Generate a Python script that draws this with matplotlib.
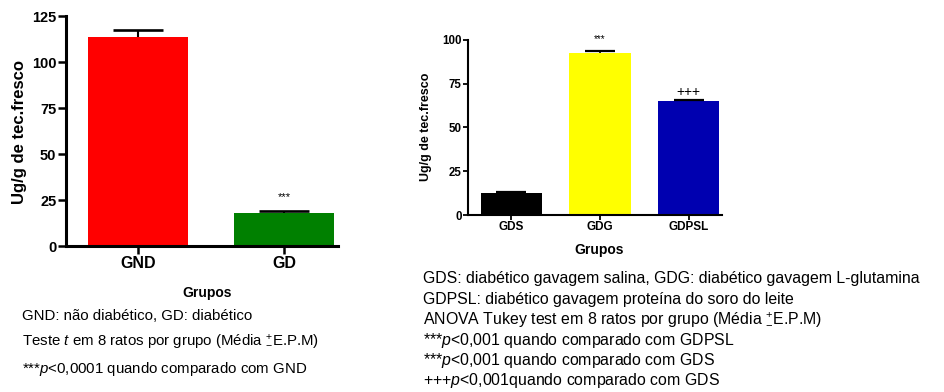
import matplotlib
matplotlib.use('Agg')
import matplotlib.pyplot as plt
import numpy as np

# --- data ---
grupos_a = ['GND', 'GD']
medias_a = [113.5, 17.8]
epm_a = [4.0, 1.0]
cores_a = ['#ff0000', '#008000']
sig_a = ['', '***']

grupos_b = ['GDS', 'GDG', 'GDPSL']
medias_b = [12.6, 92.8, 65.2]
epm_b = [0.3, 0.9, 0.4]
cores_b = ['#000000', '#ffff00', '#0000b0']
sig_b = ['', '***', '+++']

legenda_a = ['GND: não diabético, GD: diabético',
             r'Teste $t$ em 8 ratos por grupo (Média $^{+}_{-}$E.P.M)',
             r'***$p$<0,0001 quando comparado com GND']
legenda_b = ['GDS: diabético gavagem salina, GDG: diabético gavagem L-glutamina',
             'GDPSL: diabético gavagem proteína do soro do leite',
             r'ANOVA Tukey test em 8 ratos por grupo (Média $^{+}_{-}$E.P.M)',
             r'***$p$<0,001 quando comparado com GDPSL',
             r'***$p$<0,001 quando comparado com GDS',
             r'+++$p$<0,001quando comparado com GDS']

plt.rcParams['font.family'] = ['Liberation Sans', 'DejaVu Sans']
plt.rcParams['mathtext.fontset'] = 'custom'
plt.rcParams['mathtext.rm'] = 'Liberation Sans'
plt.rcParams['mathtext.it'] = 'Liberation Sans:italic'

W, H = 944, 392
fig = plt.figure(figsize=(W / 100, H / 100), dpi=100)


def px(x, y):
    return x / W, 1 - y / H


def eixo(x0, x1, y0, y1):
    return fig.add_axes([x0 / W, 1 - y1 / H, (x1 - x0) / W, (y1 - y0) / H])


def barras_erro(ax, x, m, e, larg_cap, lw):
    # only the upper half of the error bar, as GraphPad draws it
    ax.errorbar(x, m, yerr=[np.zeros(len(x)), e], fmt='none', ecolor='black',
                elinewidth=lw, capsize=0, zorder=3)
    ax.plot(x, np.array(m) + np.array(e), ls='none', marker='_',
            markersize=larg_cap, mew=lw + 0.4, color='black', zorder=3)


# ---- left chart ----
ax1 = eixo(66, 338, 16, 246)
x = np.arange(len(grupos_a))
ax1.bar(x, medias_a, width=0.685, color=cores_a, zorder=2)
barras_erro(ax1, x, medias_a, epm_a, 36, 1.5)
for xi, m, e, s in zip(x, medias_a, epm_a, sig_a):
    if s:
        ax1.text(xi, m + e + 5, s, ha='center', va='bottom', fontsize=8)
ax1.set_xlim(-0.493, 1.37)
ax1.set_ylim(0, 125)
ax1.set_yticks([0, 25, 50, 75, 100, 125])
ax1.set_xticks(x)
ax1.set_xticklabels(grupos_a, fontsize=11.5, fontweight='bold')
for t in ax1.get_yticklabels():
    t.set_fontsize(10.5)
    t.set_fontweight('bold')
ax1.tick_params(axis='both', length=6, width=1.8, pad=1)
for sp in ['top', 'right']:
    ax1.spines[sp].set_visible(False)
for sp in ['left', 'bottom']:
    ax1.spines[sp].set_linewidth(2.2)
fig.text(*px(20, 132), 'Ug/g de tec.fresco', rotation=90, ha='center',
         va='center', fontsize=12, fontweight='bold')
fig.text(*px(207, 293), 'Grupos', ha='center', va='center', fontsize=10,
         fontweight='bold')
for i, linha in enumerate(legenda_a):
    fig.text(*px(22, 316 + i * 26.5), linha, ha='left', va='center',
             fontsize=10.8)

# ---- right chart ----
ax2 = eixo(468, 722, 40, 215)
x = np.arange(len(grupos_b))
ax2.bar(x, medias_b, width=0.69, color=cores_b, zorder=2)
barras_erro(ax2, x, medias_b, epm_b, 21.6, 1.2)
for xi, m, e, s in zip(x, medias_b, epm_b, sig_b):
    if s == '***':
        ax2.text(xi, m + e + 4, s, ha='center', va='bottom', fontsize=7,
                 clip_on=False)
    elif s:
        ax2.text(xi, m + e + 0.5, s, ha='center', va='bottom', fontsize=10,
                 clip_on=False)
ax2.set_xlim(-0.489, 2.375)
ax2.set_ylim(0, 100)
ax2.set_yticks([0, 25, 50, 75, 100])
ax2.set_xticks(x)
ax2.set_xticklabels(grupos_b, fontsize=8.5, fontweight='bold')
for t in ax2.get_yticklabels():
    t.set_fontsize(8.3)
    t.set_fontweight('bold')
ax2.tick_params(axis='both', length=3.6, width=1.3, pad=1)
for sp in ['top', 'right']:
    ax2.spines[sp].set_visible(False)
for sp in ['left', 'bottom']:
    ax2.spines[sp].set_linewidth(1.5)
fig.text(*px(426, 127), 'Ug/g de tec.fresco', rotation=90, ha='center',
         va='center', fontsize=9, fontweight='bold')
fig.text(*px(599, 250), 'Grupos', ha='center', va='center', fontsize=10,
         fontweight='bold')
for i, linha in enumerate(legenda_b):
    fig.text(*px(423, 279 + i * 20.4), linha, ha='left', va='center',
             fontsize=11.4)

fig.savefig('out.png', dpi=100)
